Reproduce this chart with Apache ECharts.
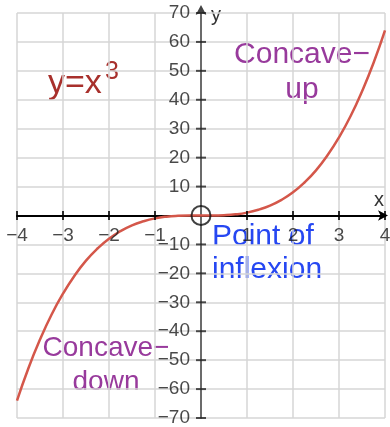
<!DOCTYPE html>
<html>
<head>
<meta charset="utf-8">
<title>y=x3</title>
<script src="https://cdn.jsdelivr.net/npm/echarts@6/dist/echarts.min.js"></script>
<style>
	html,body{margin:0;padding:0;background:#fff;}
	#cubic_chart{width:390px;height:427px;}
</style>
</head>
<body>
<div id="cubic_chart"></div>
<script>
// 曲线上读出的点 (x, y)
var curveX = [-4,-3.75,-3.5,-3.25,-3,-2.75,-2.5,-2.25,-2,-1.75,-1.5,-1.25,-1,-0.75,-0.5,-0.25,0,
	0.25,0.5,0.75,1,1.25,1.5,1.75,2,2.25,2.5,2.75,3,3.25,3.5,3.75,4];
var curveY = [-64,-52.7,-42.9,-34.3,-27,-20.8,-15.6,-11.4,-8,-5.4,-3.4,-2,-1,-0.4,-0.1,0,0,
	0,0.1,0.4,1,2,3.4,5.4,8,11.4,15.6,20.8,27,34.3,42.9,52.7,64];
// 坐标轴刻度
var xTicks = [-4,-3,-2,-1,1,2,3,4];
var yTicks = [-70,-60,-50,-40,-30,-20,-10,10,20,30,40,50,60,70];
// 拐点
var inflexion = [0,0];

var cubic = {
	init : function(){
		var myChart = echarts.init(document.getElementById("cubic_chart"));
		myChart.setOption(cubic.options());
	},

	minus : function(v){
		if(v === 0) return '';
		return String(v).replace('-', '\u2212');
	},

	options : function(){
		var line = [];
		for(var i = 0; i < curveX.length; i++){
			line.push([curveX[i], curveY[i]]);
		}
		var xt = xTicks.map(function(v){ return [v, 0]; });
		var yt = yTicks.map(function(v){ return [0, v]; });
		var tickFont = {fontSize:19,color:'#1a1a1a',fontFamily:'Liberation Sans'};

		var option = {
			animation:false,
			grid:{
				left:17,
				right:5,
				top:13,
				bottom:9,
				containLabel:false,
				outerBoundsMode:'none'
			},
			xAxis:{
				type:'value',
				min:-4,
				max:4,
				interval:1,
				axisLine:{
					onZero:true,
					symbol:['none','arrow'],
					symbolSize:[8,10],
					symbolOffset:[0,3],
					lineStyle:{color:'#000',width:2}
				},
				axisTick:{show:false},
				axisLabel:{show:false},
				splitLine:{lineStyle:{color:'#d6d6d6',width:1.5}}
			},
			yAxis:{
				type:'value',
				min:-70,
				max:70,
				interval:10,
				axisLine:{
					onZero:true,
					symbol:['none','arrow'],
					symbolSize:[8,10],
					symbolOffset:[0,8],
					lineStyle:{color:'#444',width:1.5}
				},
				axisTick:{show:false},
				axisLabel:{show:false},
				splitLine:{lineStyle:{color:'#d6d6d6',width:1.5}}
			},
			series:[
				{
					name:'y=x3',
					type:'line',
					data:line,
					smooth:true,
					showSymbol:false,
					lineStyle:{color:'#d4574a',width:2.5},
					z:3
				},
				{
					// x 轴刻度及标签
					type:'scatter',
					data:xt,
					symbol:'rect',
					symbolSize:[2,9],
					itemStyle:{color:'#000'},
					label:{
						show:true,
						position:'bottom',
						distance:6,
						fontSize:tickFont.fontSize,
						color:tickFont.color,
						fontFamily:tickFont.fontFamily,
						formatter:function(p){ return cubic.minus(p.value[0]); }
					},
					z:4
				},
				{
					// y 轴刻度及标签
					type:'scatter',
					data:yt,
					symbol:'rect',
					symbolSize:[10,2],
					itemStyle:{color:'#222'},
					label:{
						show:true,
						position:'left',
						distance:6,
						fontSize:tickFont.fontSize,
						color:tickFont.color,
						fontFamily:tickFont.fontFamily,
						formatter:function(p){ return cubic.minus(p.value[1]); }
					},
					z:4
				},
				{
					type:'scatter',
					data:[inflexion],
					symbol:'circle',
					symbolSize:19,
					itemStyle:{color:'rgba(0,0,0,0)',borderColor:'#111',borderWidth:2},
					z:5
				}
			],
			graphic:[
				{type:'text',x:48,y:84,style:{text:'y=x',fontSize:34,fontFamily:'Liberation Sans',fill:'#a8302c',verticalAlign:'middle'}},
				{type:'text',x:105,y:72,style:{text:'3',fontSize:25,fontFamily:'Liberation Sans',fill:'#a8302c',verticalAlign:'middle'}},
				{type:'text',x:302,y:37,style:{text:'Concave\u2212\nup',fontSize:30,lineHeight:35,fontFamily:'Liberation Sans',fill:'#983a9c',align:'center',verticalAlign:'top'}},
				{type:'text',x:106,y:331,style:{text:'Concave\u2212\ndown',fontSize:28,lineHeight:34,fontFamily:'Liberation Sans',fill:'#983a9c',align:'center',verticalAlign:'top'}},
				{type:'text',x:212,y:220,style:{text:'Point of\ninflexion',fontSize:30,lineHeight:33,fontFamily:'Liberation Sans',fill:'#2647f2',verticalAlign:'top'}},
				{type:'text',x:374,y:200,style:{text:'x',fontSize:20,fontFamily:'Liberation Sans',fill:'#333',verticalAlign:'middle'}},
				{type:'text',x:211,y:15,style:{text:'y',fontSize:20,fontFamily:'Liberation Sans',fill:'#333',verticalAlign:'middle'}}
			]
		};
		return option;
	}
};

cubic.init();
</script>
</body>
</html>
